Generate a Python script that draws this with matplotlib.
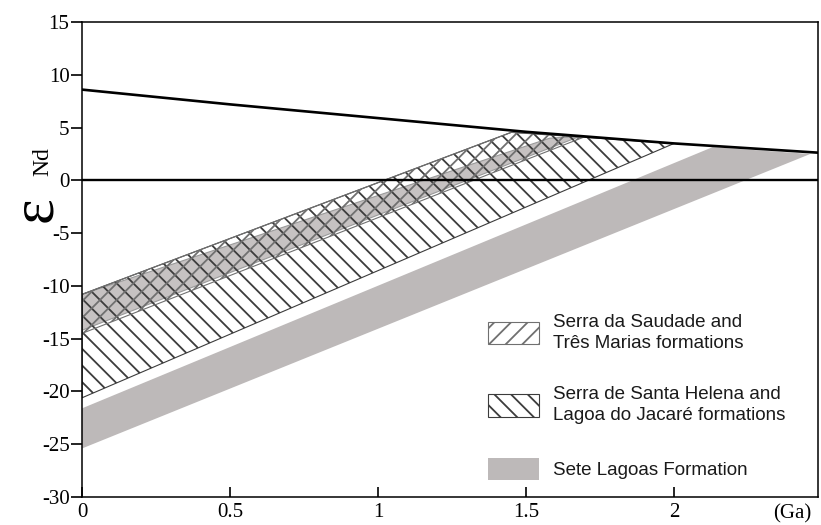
import matplotlib
matplotlib.use("Agg")
import matplotlib.pyplot as plt
from matplotlib.patches import Polygon, Patch

# depleted mantle curve (age in Ga, eps Nd)
dm_age = [0.0, 0.5, 1.0, 1.5, 2.0, 2.5]
dm_eps = [8.6, 7.2, 5.9, 4.6, 3.5, 2.6]

# CHUR reference
chur_age = [0.0, 2.5]
chur_eps = [0.0, 0.0]

# Sete Lagoas Formation field
sete_age = [0.0, 2.13, 2.46, 0.0]
sete_eps = [-21.6, 3.15, 2.5, -25.4]

# Serra de Santa Helena / Lagoa do Jacare field
helena_age = [0.0, 1.45, 2.0, 0.0]
helena_eps = [-10.8, 4.55, 3.5, -20.6]

# Serra da Saudade / Tres Marias field
saudade_age = [0.0, 1.45, 1.7, 0.0]
saudade_eps = [-10.8, 4.55, 4.15, -14.5]

# shaded overlap inside the hatched fields
core_age = [0.0, 1.58, 1.68, 0.0]
core_eps = [-10.8, 4.0, 4.15, -14.2]

x_ticks = [0, 0.5, 1, 1.5, 2]
x_ticklabels = ["0", "0.5", "1", "1.5", "2"]
y_ticks = [-30, -25, -20, -15, -10, -5, 0, 5, 10, 15]

labels = ["Serra da Saudade and\nTrês Marias formations",
          "Serra de Santa Helena and\nLagoa do Jacaré formations",
          "Sete Lagoas Formation"]

plt.rcParams['axes.unicode_minus'] = False
plt.rcParams['hatch.linewidth'] = 1.3

fig = plt.figure(figsize=(8.21, 5.25), dpi=100)
ax = fig.add_axes([0.0999, 0.0533, 0.8964, 0.9047])

gray = '#bdb9b9'

ax.add_patch(Polygon(list(zip(sete_age, sete_eps)), closed=True,
                     facecolor=gray, edgecolor='none', zorder=1))
ax.add_patch(Polygon(list(zip(core_age, core_eps)), closed=True,
                     facecolor='#c6c2c2', edgecolor='#9a9a9a', lw=0.8, zorder=1))
ax.add_patch(Polygon(list(zip(helena_age, helena_eps)), closed=True,
                     fill=False, hatch='\\\\', edgecolor='#3c3c3c', lw=0.8, zorder=2))
ax.add_patch(Polygon(list(zip(saudade_age, saudade_eps)), closed=True,
                     fill=False, hatch='//', edgecolor='#707070', lw=0.8, zorder=2))

ax.plot(dm_age, dm_eps, color='black', lw=1.9, zorder=3)
ax.plot(chur_age, chur_eps, color='black', lw=1.7, zorder=3)

ax.set_xlim(0, 2.486)
ax.set_ylim(-30, 15)

ax.set_xticks(x_ticks)
ax.set_xticklabels(x_ticklabels)
ax.set_yticks(y_ticks)

for lab in ax.get_xticklabels() + ax.get_yticklabels():
    lab.set_fontfamily('Liberation Serif')
    lab.set_fontsize(15)

ax.tick_params(axis='x', direction='in', length=7, width=1.2, pad=4)
ax.tick_params(axis='y', direction='out', length=8, width=1.2, pad=1)
for s in ax.spines.values():
    s.set_linewidth(1.1)

ax.text(0.965, -0.036, "(Ga)", transform=ax.transAxes, ha='center', va='center',
        fontfamily='Liberation Serif', fontsize=15)

# y label: big epsilon with Nd subscript
fig.text(36 / 821, 1 - 209 / 525, "ε", rotation=90, ha='center', va='center',
         fontfamily='Liberation Serif', fontsize=44)
fig.text(43 / 821, 1 - 162 / 525, "Nd", rotation=90, ha='center', va='center',
         fontfamily='Liberation Serif', fontsize=17)

handles = [Patch(facecolor='white', edgecolor='#707070', hatch='//', lw=0.8),
           Patch(facecolor='white', edgecolor='#3c3c3c', hatch='\\\\', lw=0.8),
           Patch(facecolor=gray, edgecolor='none')]
leg = ax.legend(handles, labels, loc='lower left', bbox_to_anchor=(0.552, 0.035),
                frameon=False, borderpad=0, borderaxespad=0,
                handlelength=2.7, handleheight=1.45, handletextpad=0.75,
                labelspacing=1.8,
                prop=dict(family='Liberation Sans', size=13.5))
for t in leg.get_texts():
    t.set_linespacing(1.35)
    t.set_color('#1a1a1a')

fig.savefig("out.png", dpi=100)
